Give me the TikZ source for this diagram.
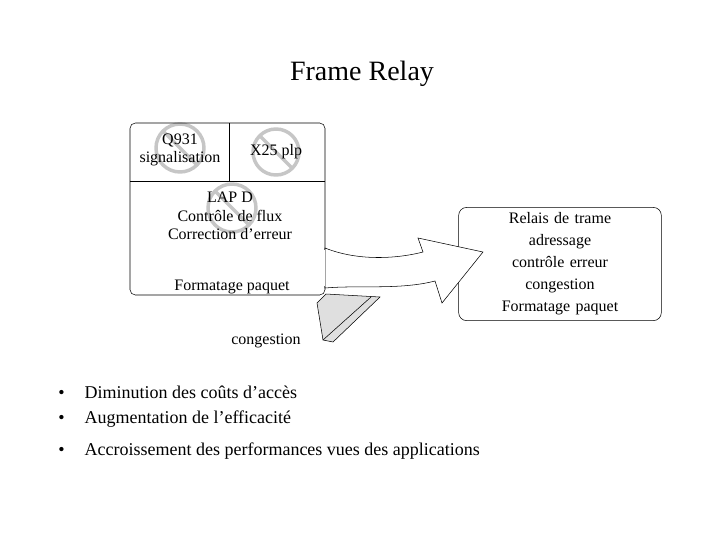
\documentclass[tikz,border=0pt]{standalone}
\usepackage{fontspec}
\setmainfont{Liberation Serif}
\begin{document}
\begin{tikzpicture}[x=0.75pt,y=-0.75pt,
  txt/.style={font=\fontsize{12}{14}\selectfont,align=center,inner sep=0pt},
  nosign/.style={draw=gray!45,line width=2.6pt},
  bul/.style={font=\fontsize{13.5}{16}\selectfont,anchor=west,inner sep=0pt}]
\useasboundingbox[fill=white] (0,0) rectangle (720,540);
% forbidden signs
\foreach \cx/\cy/\r in {180/148/24, 276/152/23, 232/208/24}{
  \draw[nosign] (\cx,\cy) circle (\r);
  \draw[nosign] ({\cx-0.7*\r},{\cy-0.7*\r}) -- ({\cx+0.7*\r},{\cy+0.7*\r});
}
\node[font=\fontsize{21}{24}\selectfont,inner sep=0pt] (title) at (362,74) {Frame Relay};
% left box
\draw[rounded corners=4pt] (130,123) rectangle (325,295);
\draw (130,181) -- (325,181);
\draw (229,123) -- (229,181);
\node[txt] (q) at (180,150) {Q931\\signalisation};
\node[txt] (x) at (276,152) {X25 plp};
\node[txt] (lap) at (230,216) {LAP D\\Contrôle de flux\\Correction d'erreur};
\node[txt] (fmt) at (232,287) {Formatage paquet};
% right box
\node[txt,draw,rounded corners=6pt,minimum width=152pt*0.75/0.75,text width=140,inner sep=4pt,
  font=\fontsize{12}{16.5}\selectfont] (relais) at (560,264)
  {Relais de trame\\adressage\\contrôle erreur\\congestion\\Formatage paquet};
% grey 3D flap
\draw[fill=gray!25] (326,294) -- (317,303) -- (323,340) -- (333,342) -- (380,297) -- cycle;
\draw (323,340) -- (371,297);
% curved arrow
\draw[fill=white] (325,248) .. controls (360,262) and (400,258) .. (423,252)
  -- (418,238) -- (483,252) -- (442,303) -- (435,281)
  .. controls (400,290) and (360,285) .. (325,288) -- cycle;
\fill[white] (322,250) rectangle (325,286);
\node[txt] (cong) at (266,341) {congestion};
% bullets
\node[bul] (b1) at (58,392) {•\hspace{15pt}Diminution des coûts d'accès};
\node[bul] (b2) at (58,419) {•\hspace{15pt}Augmentation de l'efficacité};
\node[bul] (b3) at (58,451) {•\hspace{15pt}Accroissement des performances vues des applications};
\end{tikzpicture}
\end{document}
